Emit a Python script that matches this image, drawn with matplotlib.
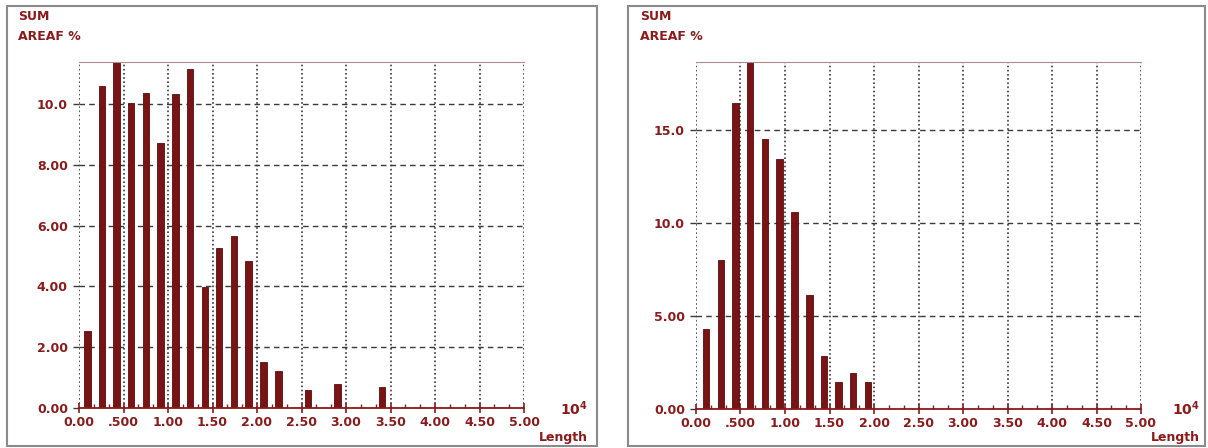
import matplotlib
matplotlib.use("Agg")
import matplotlib.pyplot as plt
from matplotlib.patches import Rectangle
from matplotlib.ticker import MultipleLocator

# data (Length in 10^4, AREAF %)
left_length = [0.096, 0.258, 0.420, 0.585, 0.751, 0.916, 1.082, 1.250, 1.413,
               1.575, 1.743, 1.906, 2.074, 2.242, 2.573, 2.904, 3.405]
left_area = [2.54, 10.60, 11.36, 10.02, 10.37, 8.71, 10.33, 11.16, 3.99,
             5.25, 5.66, 4.84, 1.52, 1.22, 0.58, 0.78, 0.68]

right_length = [0.112, 0.278, 0.443, 0.608, 0.776, 0.940, 1.106, 1.275,
                1.436, 1.600, 1.765, 1.930]
right_area = [4.28, 8.01, 16.43, 18.62, 14.52, 13.46, 10.58, 6.11, 2.85,
              1.43, 1.95, 1.43]

x_ticks = [0.0, 0.5, 1.0, 1.5, 2.0, 2.5, 3.0, 3.5, 4.0, 4.5, 5.0]
x_ticklabels = ["0.00", ".500", "1.00", "1.50", "2.00", "2.50", "3.00",
                "3.50", "4.00", "4.50", "5.00"]
left_yticks = [0, 2, 4, 6, 8, 10]
left_yticklabels = ["0.00", "2.00", "4.00", "6.00", "8.00", "10.0"]
right_yticks = [0, 5, 10, 15]
right_yticklabels = ["0.00", "5.00", "10.0", "15.0"]

maroon = "#8b1a1a"
bar_col = "#7a1414"
grid_col = "#3a3a3a"

W, H = 1208, 448
fig = plt.figure(figsize=(W / 100, H / 100), dpi=100)
fig.patch.set_facecolor("white")


def px(x0, y_top, x1, y_bot):
    # pixel box -> figure fraction rect
    return [x0 / W, (H - y_bot) / H, (x1 - x0) / W, (y_bot - y_top) / H]


def panel(rect, border, xs, ys, yticks, ylabels, ytop):
    fig.add_artist(Rectangle((border[0] / W, (H - border[3]) / H),
                             (border[2] - border[0]) / W,
                             (border[3] - border[1]) / H,
                             transform=fig.transFigure, fill=False,
                             edgecolor="#8a8a8a", lw=1.5))
    ax = fig.add_axes(rect)
    ax.bar(xs, ys, width=0.072, color=bar_col, edgecolor="#5a0c0c",
           lw=0.6, zorder=3)
    ax.set_xlim(0, 5.0)
    ax.set_ylim(0, ytop)
    ax.set_xticks(x_ticks)
    ax.set_xticklabels(x_ticklabels)
    ax.xaxis.set_minor_locator(MultipleLocator(0.5 / 3))
    ax.set_yticks(yticks)
    ax.set_yticklabels(ylabels)
    for lab in ax.get_xticklabels() + ax.get_yticklabels():
        lab.set_fontweight("bold")
        lab.set_color(maroon)
        lab.set_fontsize(9)
    ax.tick_params(axis="x", which="major", direction="inout", length=7,
                   color=maroon, width=1.2, pad=2)
    ax.tick_params(axis="x", which="minor", direction="in", length=3,
                   color=maroon, width=1)
    ax.tick_params(axis="y", direction="out", length=4, color=grid_col,
                   width=1, pad=4)
    ax.yaxis.grid(True, linestyle=(0, (4, 3)), color=grid_col, lw=1)
    ax.xaxis.grid(True, linestyle=(0, (1, 1.5)), color=grid_col, lw=1.2)
    ax.set_axisbelow(True)
    for s in ["left", "right"]:
        ax.spines[s].set_visible(False)
    ax.spines["top"].set_color("#b08a8a")
    ax.spines["top"].set_linewidth(0.8)
    ax.spines["bottom"].set_color(maroon)
    ax.spines["bottom"].set_linewidth(1.3)
    ax.spines["bottom"].set_zorder(4)
    return ax


panel(px(79, 62, 524, 408), (7, 6, 597, 446), left_length, left_area,
      left_yticks, left_yticklabels, 11.38)
panel(px(696, 62, 1141, 409), (628, 6, 1205, 446), right_length, right_area,
      right_yticks, right_yticklabels, 18.65)

for x0, xr in [(18, 588), (640, 1200)]:
    fig.text(x0 / W, 1 - 17 / H, "SUM", color=maroon, fontsize=9,
             fontweight="bold", va="center", ha="left")
    fig.text(x0 / W, 1 - 37 / H, "AREAF %", color=maroon, fontsize=9,
             fontweight="bold", va="center", ha="left")
    fig.text(xr / W, 1 - 409 / H, r"$\mathbf{10^{4}}$", color=maroon,
             fontsize=10, va="center", ha="right")
    fig.text(xr / W, 1 - 437 / H, "Length", color=maroon, fontsize=9,
             fontweight="bold", va="center", ha="right")

fig.savefig("out.png", dpi=100)
